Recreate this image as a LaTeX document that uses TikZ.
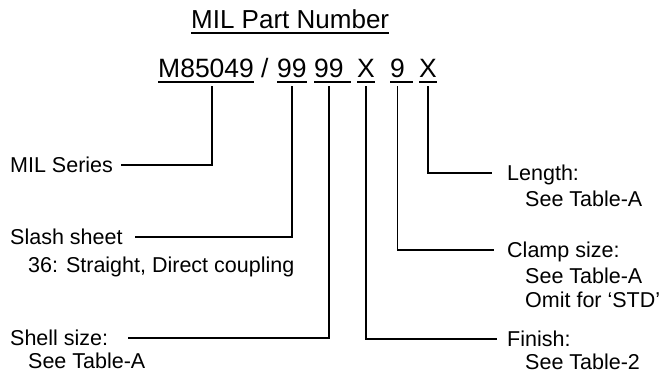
\documentclass[tikz,border=0pt]{standalone}
\usepackage{fontspec}
\setmainfont{Liberation Sans}
\usetikzlibrary{positioning}
\newcommand{\titlefont}{\fontsize{26}{30}\selectfont}
\newcommand{\partfont}{\fontsize{26.5}{30}\selectfont}
\newcommand{\lblfont}{\fontsize{21.5}{24}\selectfont}
\tikzset{
	heading/.style={font=\titlefont, inner sep=0pt, anchor=base west, text depth=5pt},
	seg/.style={font=\partfont, inner sep=0pt, anchor=base west, text depth=5pt},
	uline/.style={line width=1.8pt},
	lbl/.style={font=\lblfont, inner sep=0pt, anchor=base west, text height=14pt, text depth=0pt},
	detail/.style={font=\lblfont, inner sep=0pt, anchor=base west, align=left},
	lead/.style={line width=1.2pt}
}
\begin{document}
\begin{tikzpicture}[x=1pt, y=-1pt]
	\useasboundingbox (0,0) rectangle (663,372);
	% title and part number
	\node[heading] (title) at (191,28) {MIL Part Number};
	\draw[uline] (title.south west) -- (title.south east);
	\node[seg] (series no) at (158,77) {M85049};
	\node[seg] (slash) at (261,77) {/};
	\node[seg] (sheet no) at (277,77) {99};
	\node[seg] (shell no) at (314,77) {99};
	\node[seg] (finish no) at (357,77) {X};
	\node[seg] (clamp no) at (390,77) {9};
	\node[seg] (length no) at (419,77) {X};
	\draw[uline] (series no.south west) -- (series no.south east);
	\draw[uline] (sheet no.south west) -- (sheet no.south east);
	\draw[uline] (shell no.south west) -- ([xshift=7pt]shell no.south east);
	\draw[uline] (finish no.south west) -- (finish no.south east);
	\draw[uline] (clamp no.south west) -- ([xshift=8pt]clamp no.south east);
	\draw[uline] (length no.south west) -- (length no.south east);
	% labels, left side
	\node[lbl] (series) at (10,172) {MIL Series};
	\node[lbl] (sheet) at (10,244) {Slash sheet};
	\node[detail] (sheet d) at ([xshift=18pt,yshift=-28pt]sheet.base west) {36: Straight, Direct coupling};
	\node[lbl] (shell) at (10,345) {Shell size:};
	\node[detail] (shell d) at ([xshift=18pt,yshift=-23pt]shell.base west) {See Table-A};
	% labels, right side
	\node[lbl] (length) at (507,180) {Length:};
	\node[detail] (length d) at ([xshift=18pt,yshift=-26pt]length.base west) {See Table-A};
	\node[lbl] (clamp) at (507,257) {Clamp size:};
	% base of a two-line node is its last line
	\node[detail] (clamp d) at ([xshift=18pt,yshift=-50pt]clamp.base west) {See Table-A\\Omit for ‘STD’};
	\node[lbl] (finish) at (507,346) {Finish:};
	\node[detail] (finish d) at ([xshift=18pt,yshift=-23pt]finish.base west) {See Table-2};
	% leaders
	\draw[lead, shorten >=8pt] ([xshift=6pt,yshift=-4pt]series no.south) |- (series.east);
	\draw[lead, shorten >=12pt] ([yshift=-4pt]sheet no.south) |- (sheet.east);
	\draw[lead, shorten >=20pt] ([yshift=-4pt]shell no.south) |- (shell.east);
	\draw[lead, shorten >=10pt] ([yshift=-4pt]finish no.south) |- (finish.west);
	\draw[lead, shorten >=13pt] ([yshift=-4pt]clamp no.south) |- (clamp.west);
	\draw[lead, shorten >=15pt] ([yshift=-4pt]length no.south) |- (length.west);
\end{tikzpicture}
\end{document}
